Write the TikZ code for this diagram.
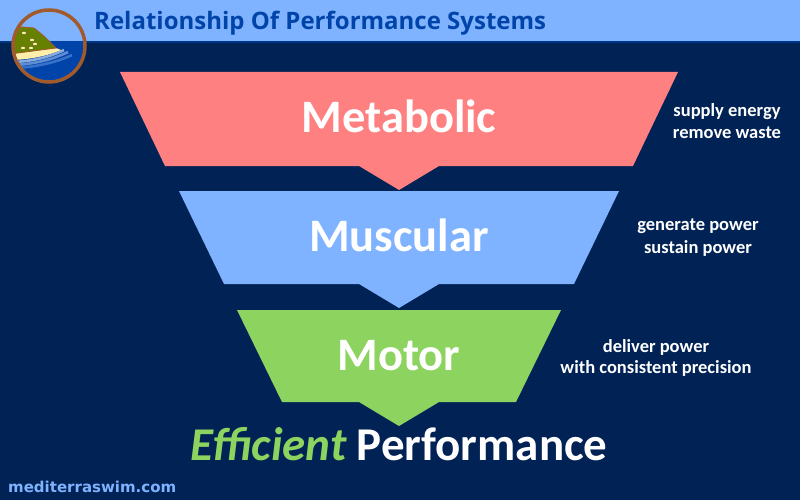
\documentclass[tikz,border=0pt]{standalone}
\usepackage{fontspec}
\setmainfont{Carlito}
\newfontfamily\titlefont{Open Sans}
\newfontfamily\webfont{DejaVu Sans}

\definecolor{navybg}{HTML}{002255}
\definecolor{bandblue}{HTML}{80B3FF}
\definecolor{titleblue}{HTML}{0044AA}
\definecolor{metapink}{HTML}{FF8080}
\definecolor{muscblue}{HTML}{80B3FF}
\definecolor{motorgreen}{HTML}{8DD35F}
\definecolor{ringbrown}{HTML}{A05A2C}
\definecolor{hillgreen}{HTML}{668000}
\definecolor{sandyellow}{HTML}{FFEEAA}
\definecolor{wavea}{HTML}{87AADE}
\definecolor{waveb}{HTML}{5F8DD3}
\definecolor{wavec}{HTML}{3771C8}

\tikzset{
	level label/.style={text=white, inner sep=0pt, anchor=base,
		font=\fontsize{46.5}{56}\selectfont\bfseries},
	note label/.style={text=white, inner sep=0pt, anchor=base,
		font=\fontsize{18.5}{22}\selectfont\bfseries},
	house/.style={fill=sandyellow, draw=hillgreen!60!black, line width=0.3pt},
	wave/.style={line width=2.6pt}
}

\begin{document}
\begin{tikzpicture}[x=1pt, y=-1pt]
		\useasboundingbox (0,0) rectangle (800,500);
		% background and title band
		\fill [navybg] (0,0) rectangle (800,500);
		\fill [bandblue] (0,0) rectangle (800,42);
		\draw [titleblue!60!navybg, line width=1.5pt] (0,42) -- (800,42);
		\node [anchor=base west, inner sep=0pt, text=titleblue,
			font=\titlefont\bfseries\fontsize{24}{28}\selectfont] (title) at (94,30) {Relationship Of Performance Systems};
		% logo
		\begin{scope}
			\clip (49,46) circle (36);
			\fill [bandblue] (0,0) rectangle (100,100);
			\fill [titleblue] (0,41) rectangle (100,100);
			\draw [wave, wavec] (10,68) .. controls (32,68) and (55,63) .. (72,55);
			\draw [wave, waveb] (10,65) .. controls (30,65) and (52,60) .. (68,52);
			\draw [wave, wavea] (10,62) .. controls (30,62) and (50,57) .. (64,50);
			\fill [sandyellow] (10,53) -- (56,48) -- (61,50) .. controls (45,57) and (25,60) .. (10,60) -- cycle;
			\fill [hillgreen, draw=ringbrown, line width=0.8pt] (10,30) -- (22,27) -- (34,28) .. controls (44,36) .. (56,48) -- (10,54) -- cycle;
			\foreach \hx/\hy in {24/33, 32/40, 35/44, 23/48, 31/48}
				\draw [house] (\hx,\hy) ellipse (2.4 and 1.7);
		\end{scope}
		\draw [ringbrown, line width=3.5pt] (49,46) circle (36);
		% funnel levels
		\foreach \ytop/\w/\hgt/\col/\lname/\txt in {72/279/94/metapink/meta/Metabolic,
				191/220/93/muscblue/musc/Muscular, 310/162/92/motorgreen/motor/Motor}
		{
			\fill [\col] (399-\w,\ytop) -- (399+\w,\ytop) -- (399+\w-45,\ytop+\hgt) -- (439,\ytop+\hgt)
				-- (399,\ytop+\hgt+24) -- (359,\ytop+\hgt) -- (399-\w+45,\ytop+\hgt) -- cycle;
			\node [level label] (\lname) at (399,\ytop+60) {\txt};
		}
		% notes on the right
		\node [note label] (meta note a) at (727,117) {supply energy};
		\node [note label] (meta note b) at (727,139) {remove waste};
		\node [note label] (musc note a) at (698,230) {generate power};
		\node [note label] (musc note b) at (698,253) {sustain power};
		\node [note label] (motor note a) at (656,352) {deliver power};
		\node [note label] (motor note b) at (656,373) {with consistent precision};
		% result and site
		\node [level label, font=\fontsize{47}{57}\selectfont\bfseries] (result) at (399,460) {\textcolor{motorgreen}{\itshape Efficient} Performance};
		\node [anchor=base west, inner sep=0pt, text=bandblue,
			font=\webfont\bfseries\fontsize{15}{18}\selectfont] (site) at (8,492) {mediterraswim.com};
\end{tikzpicture}
\end{document}
